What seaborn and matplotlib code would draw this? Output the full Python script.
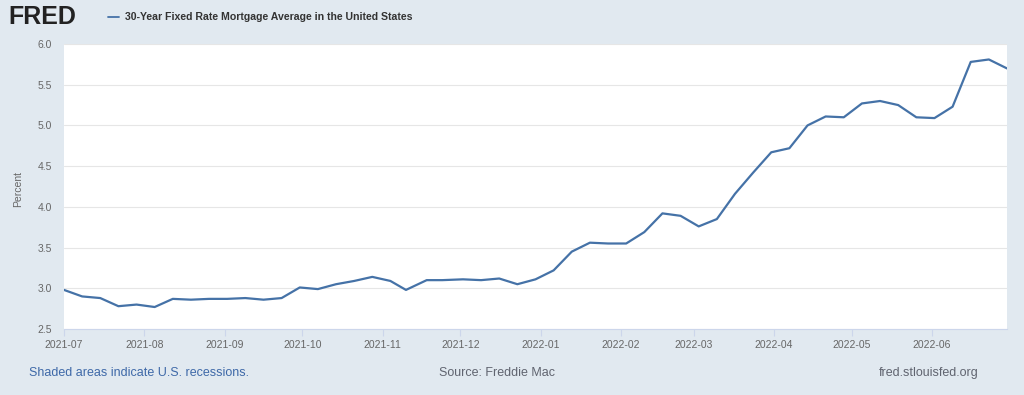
import matplotlib
matplotlib.use("Agg")
import matplotlib.pyplot as plt
import matplotlib.dates as mdates
import seaborn as sns
import pandas as pd
import numpy as np

dates = ["2021-07-01","2021-07-08","2021-07-15","2021-07-22","2021-07-29",
         "2021-08-05","2021-08-12","2021-08-19","2021-08-26",
         "2021-09-02","2021-09-09","2021-09-16","2021-09-23","2021-09-30",
         "2021-10-07","2021-10-14","2021-10-21","2021-10-28",
         "2021-11-04","2021-11-10","2021-11-18","2021-11-24",
         "2021-12-02","2021-12-09","2021-12-16","2021-12-23","2021-12-30",
         "2022-01-06","2022-01-13","2022-01-20","2022-01-27",
         "2022-02-03","2022-02-10","2022-02-17","2022-02-24",
         "2022-03-03","2022-03-10","2022-03-17","2022-03-24","2022-03-31",
         "2022-04-07","2022-04-14","2022-04-21","2022-04-28",
         "2022-05-05","2022-05-12","2022-05-19","2022-05-26",
         "2022-06-02","2022-06-09","2022-06-16","2022-06-23","2022-06-30"]
rates = [2.98, 2.90, 2.88, 2.78, 2.80,
         2.77, 2.87, 2.86, 2.87,
         2.87, 2.88, 2.86, 2.88, 3.01,
         2.99, 3.05, 3.09, 3.14,
         3.09, 2.98, 3.10, 3.10,
         3.11, 3.10, 3.12, 3.05, 3.11,
         3.22, 3.45, 3.56, 3.55,
         3.55, 3.69, 3.92, 3.89,
         3.76, 3.85, 4.16, 4.42, 4.67,
         4.72, 5.00, 5.11, 5.10,
         5.27, 5.30, 5.25, 5.10,
         5.09, 5.23, 5.78, 5.81, 5.70]
yticks = [2.5, 3.0, 3.5, 4.0, 4.5, 5.0, 5.5, 6.0]
series_name = "30-Year Fixed Rate Mortgage Average in the United States"

df = pd.DataFrame({"date": pd.to_datetime(dates), "rate": rates})

sns.set_theme(style="white")
plt.rcParams["font.family"] = ["Liberation Sans", "DejaVu Sans"]

BG = "#e1e9f0"
LINE = "#4572a7"
W, H = 1024, 395
fig = plt.figure(figsize=(W/100, H/100), dpi=100, facecolor=BG)
ax = fig.add_axes([64/W, 1-329/H, (1007-64)/W, (329-44)/H])
ax.set_facecolor("white")

sns.lineplot(data=df, x="date", y="rate", ax=ax, color=LINE, linewidth=1.6)

ax.set_ylim(2.5, 6.0)
ax.set_yticks(yticks)
ax.set_yticklabels([f"{v:.1f}" for v in yticks])
ax.set_xlim(df["date"].iloc[0], df["date"].iloc[-1])
ax.xaxis.set_major_locator(mdates.MonthLocator())
ax.xaxis.set_major_formatter(mdates.DateFormatter("%Y-%m"))

ax.grid(axis="y", color="#e6e6e6", linewidth=0.8)
ax.grid(axis="x", visible=False)
for s in ["top", "right", "left"]:
    ax.spines[s].set_visible(False)
ax.spines["bottom"].set_color("#ccd6eb")
ax.spines["bottom"].set_linewidth(0.8)

ax.tick_params(axis="x", colors="#666666", labelsize=7.5, length=5, width=0.8,
               color="#ccd6eb", pad=3, direction="out", bottom=True)
ax.tick_params(axis="y", colors="#666666", labelsize=7.5, length=0, pad=8.5)
ax.set_xlabel("")
ax.set_ylabel("Percent", color="#666666", fontsize=7.5)
ax.yaxis.set_label_coords(-41/943, 0.49)

# Header
fig.text(8/W, 1-17/H, "FRED", fontsize=18, fontweight="black", color="#222222",
         va="center", ha="left")
fig.lines.append(plt.Line2D([108/W, 119/W], [1-17/H, 1-17/H], color=LINE,
                            linewidth=1.3, transform=fig.transFigure))
fig.text(125/W, 1-17/H, series_name, fontsize=7.6, fontweight="bold",
         color="#333333", va="center", ha="left")

# Footer
fig.text(29/W, 1-373/H, "Shaded areas indicate U.S. recessions.", fontsize=9,
         color="#3e69a8", va="center", ha="left")
fig.text(497/W, 1-373/H, "Source: Freddie Mac", fontsize=9,
         color="#606470", va="center", ha="center")
fig.text(979/W, 1-373/H, "fred.stlouisfed.org", fontsize=9,
         color="#606470", va="center", ha="right")

fig.savefig("out.png", dpi=100, facecolor=BG)
